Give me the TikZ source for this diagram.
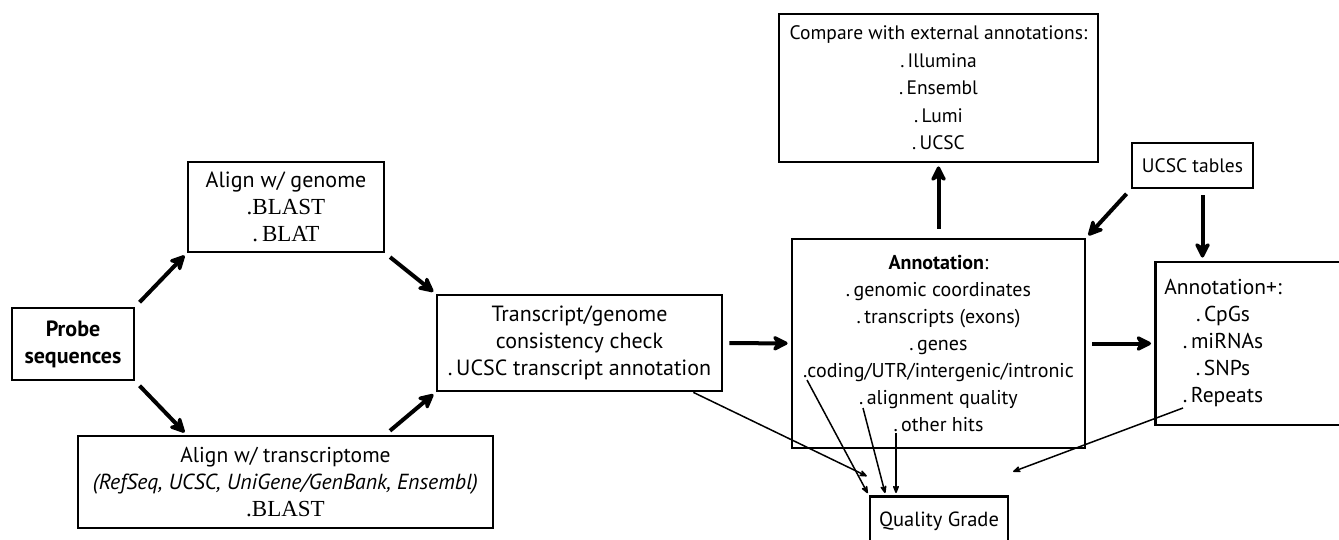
\documentclass[tikz,border=0pt]{standalone}
\usepackage{fontspec}
\setmainfont{PT Sans}
\newfontfamily\blastfont{Liberation Serif}
\usetikzlibrary{positioning,calc,arrows.meta}

\begin{document}
\begin{tikzpicture}[x=1pt, y=-1pt, ->, >={Stealth[round, length=19pt, width=19pt, inset=6pt]}, box/.style={draw, line width=2.8pt, align=center, inner sep=0pt, font=\fontsize{22}{27}\selectfont}, plaintext/.style={align=center, inner sep=0pt, font=\fontsize{21.5}{27}\selectfont}, every edge/.append style={line width=4pt, shorten <=6pt, shorten >=3pt}, thin/.style={line width=1.5pt, shorten <=0pt, shorten >=2pt, -{Stealth[round, length=10pt, width=8pt]}}]

\useasboundingbox (0,0) rectangle (1339,540);
\clip (0,0) rectangle (1339,540);

% left part
\node[box, minimum width=122pt, minimum height=72pt, font=\bfseries\fontsize{22}{27}\selectfont] (probe) at (73,344) {Probe\\sequences};
\node[box, minimum width=196pt, minimum height=90pt] (genome) at (286,207) {Align w/ genome\\{\blastfont\fontsize{23}{27}\selectfont .BLAST}\\{\blastfont\fontsize{23}{27}\selectfont .\,BLAT}};
\node[box, minimum width=415pt, minimum height=92pt, font=\fontsize{21.5}{27}\selectfont] (transcriptome) at (285.5,482) {Align w/ transcriptome\\{\itshape\fontsize{21.8}{27}\selectfont (RefSeq, UCSC, UniGene/GenBank, Ensembl)}\\{\blastfont\fontsize{23}{27}\selectfont .BLAST}};
\node[box, minimum width=285pt, minimum height=96pt] (check) at (579.5,343) {Transcript/genome\\consistency check\\.\,UCSC transcript annotation};

% right part
\node[box, minimum width=319pt, minimum height=148pt, font=\fontsize{19.5}{27.5}\selectfont] (compare) at (938.5,88) {Compare with external annotations:\\.\,Illumina\\.\,Ensembl\\.\,Lumi\\.\,UCSC};
\node[box, minimum width=121pt, minimum height=45pt, font=\fontsize{19.5}{27}\selectfont] (tables) at (1192.5,165.5) {UCSC tables};
\node[box, minimum width=293pt, minimum height=209pt, font=\fontsize{20}{27}\selectfont] (annot) at (938.5,343.5) {\textbf{Annotation}:\\.\,genomic coordinates\\.\,transcripts (exons)\\.\,genes\\.coding/UTR/intergenic/intronic\\.\,alignment quality\\.\,other hits};
\node[box, minimum width=200pt, minimum height=163pt, anchor=west] (annotplus) at (1154,343.5) {};
\node[plaintext] (annotplustext) at (1223,343) {Annotation+:\\.\,CpGs\\.\,miRNAs\\.\,SNPs\\.\,Repeats};
\node[box, minimum width=138pt, minimum height=50pt, anchor=north, font=\fontsize{20.5}{27}\selectfont] (quality) at (939,495) {Quality Grade};

% start points of the thin lines
\coordinate (coding) at (807,380);
\coordinate (alignq) at (863,408);
\coordinate (otherhits) at (896,433);
\coordinate (repeats) at (1183,408);

\path
 (probe.north east) edge (genome.south west)
 (probe.south east) edge (genome.south west |- transcriptome.north)
 (genome.south east) edge (check.north west)
 (genome.south east |- transcriptome.north) edge (check.south west)
 (check) edge (annot)
 (annot) edge[shorten <=9pt] (compare)
 (tables.south west) edge (annot.north east)
 ([xshift=10pt]tables.south) edge ([xshift=10pt]tables.south |- annotplus.north)
 (annot) edge (annotplus);

\path
 ([xshift=-30pt]check.south east) edge[thin] ([yshift=18pt]quality.north west)
 (coding) edge[thin] (quality.north west)
 (alignq) edge[thin] ([xshift=17pt]quality.north west)
 (otherhits) edge[thin] ([xshift=-43pt]quality.north)
 (repeats) edge[thin, shorten >=4pt] ([yshift=22pt]quality.north east);
\end{tikzpicture}
\end{document}
